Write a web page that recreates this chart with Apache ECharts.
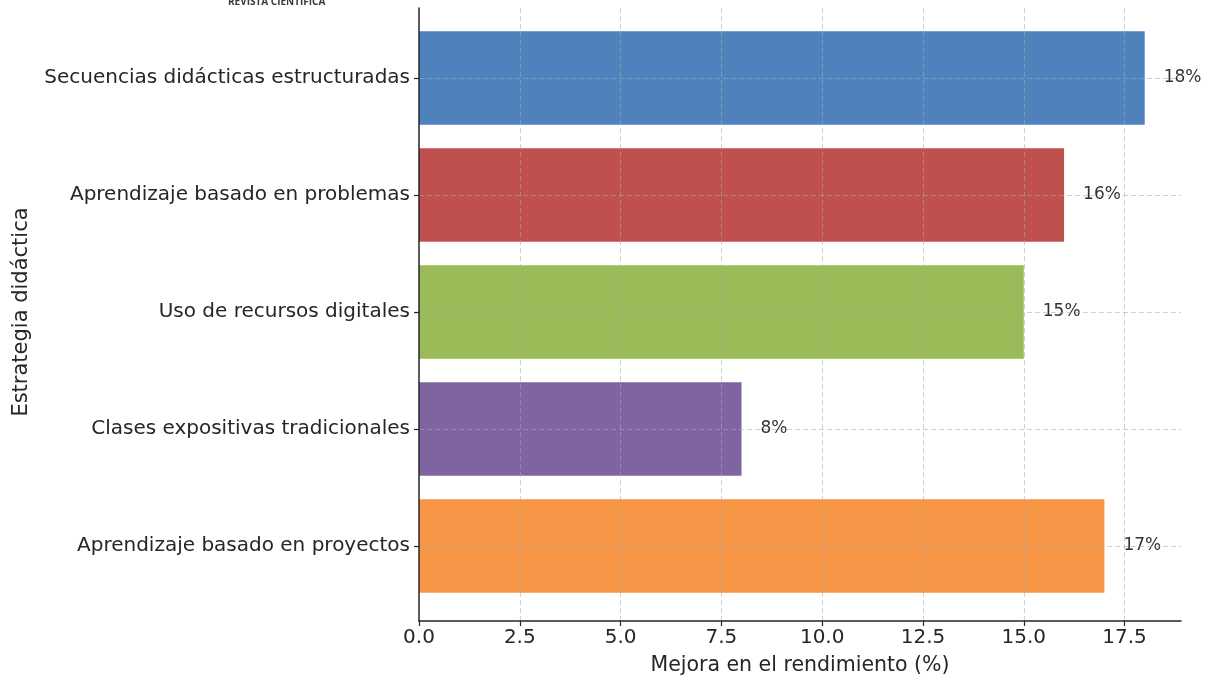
<!DOCTYPE html>
<html>
<head>
<meta charset="utf-8">
<script src="https://cdn.jsdelivr.net/npm/echarts@6/dist/echarts.min.js"></script>
<style>
  html, body { margin: 0; padding: 0; background: #fff; }
  #chart { width: 1217px; height: 675px; }
</style>
</head>
<body>
<div id="chart"></div>
<script>
// Strategies listed bottom-to-top (category axis starts at the bottom)
const strategies = [
  'Aprendizaje basado en proyectos',
  'Clases expositivas tradicionales',
  'Uso de recursos digitales',
  'Aprendizaje basado en problemas',
  'Secuencias didácticas estructuradas'
];
const improvement = [17, 8, 15, 16, 18];
const barColors = ['#F79646', '#8064A2', '#9BBB59', '#C0504D', '#4F81BD'];
const xTicks = [0, 2.5, 5, 7.5, 10, 12.5, 15, 17.5];
const xMax = 18.9;

const FONT = '"DejaVu Sans", sans-serif';
const INK = '#262626';
const GRID_COLOR = 'rgba(170,170,170,0.55)';

const chart = echarts.init(document.getElementById('chart'), null, { renderer: 'canvas' });

chart.setOption({
  animation: false,
  backgroundColor: '#fff',
  graphic: [{
    type: 'text',
    left: 228,
    top: -3,
    style: {
      text: 'REVISTA CIENTÍFICA',
      font: 'bold 10px "Open Sans", sans-serif',
      fill: '#3a3a3a'
    }
  }],
  grid: [
    // frame: spines, x ticks, vertical gridlines
    { left: 419, right: 36, top: 8, bottom: 54, outerBoundsMode: 'none', containLabel: false },
    // bars: category bands
    { left: 419, right: 36, top: 19.5, bottom: 70.5, outerBoundsMode: 'none', containLabel: false }
  ],
  xAxis: [
    {
      type: 'value',
      gridIndex: 0,
      min: 0,
      max: xMax,
      interval: 2.5,
      z: 5,
      name: 'Mejora en el rendimiento (%)',
      nameLocation: 'middle',
      nameGap: 34,
      nameTextStyle: { fontFamily: FONT, fontSize: 20.5, color: INK },
      axisLine: { show: true, lineStyle: { color: INK, width: 1.5 } },
      axisTick: {
        show: true, length: 5, inside: false,
        customValues: xTicks,
        lineStyle: { color: INK, width: 1.2 }
      },
      axisLabel: {
        customValues: xTicks,
        margin: 7,
        fontFamily: FONT, fontSize: 20, color: INK,
        formatter: v => Number(v).toFixed(1)
      },
      splitLine: {
        show: true,
        showMinLine: false,
        showMaxLine: true,
        lineStyle: { color: GRID_COLOR, type: [5, 3], width: 1 }
      }
    },
    {
      type: 'value',
      gridIndex: 1,
      min: 0,
      max: xMax,
      show: false
    }
  ],
  yAxis: [
    {
      type: 'value',
      gridIndex: 0,
      min: 0,
      max: 1,
      z: 5,
      axisLine: { show: true, lineStyle: { color: INK, width: 1.5 } },
      axisTick: { show: false },
      axisLabel: { show: false },
      splitLine: { show: false }
    },
    {
      type: 'category',
      gridIndex: 1,
      data: strategies,
      name: 'Estrategia didáctica',
      nameLocation: 'middle',
      nameRotate: 90,
      nameGap: 387,
      nameTextStyle: { fontFamily: FONT, fontSize: 21, color: INK },
      axisLine: { show: false },
      axisTick: {
        show: true, alignWithLabel: true, length: 5,
        lineStyle: { color: INK, width: 1.2 }
      },
      axisLabel: { margin: 9, fontFamily: FONT, fontSize: 20, color: INK },
      splitLine: { show: false }
    }
  ],
  series: [{
    type: 'bar',
    xAxisIndex: 1,
    yAxisIndex: 1,
    barWidth: '80%',
    data: improvement.map((v, i) => ({ value: v, itemStyle: { color: barColors[i] } })),
    label: {
      show: true,
      position: 'right',
      distance: 17,
      formatter: p => p.value + '%',
      fontFamily: FONT,
      fontSize: 17,
      color: '#333',
      backgroundColor: 'rgba(255,255,255,0.8)',
      padding: [2, 2]
    },
    markLine: {
      silent: true,
      symbol: 'none',
      label: { show: false },
      lineStyle: { color: GRID_COLOR, type: [5, 3], width: 1 },
      data: strategies.map(s => ({ yAxis: s }))
    }
  }]
});
</script>
</body>
</html>
